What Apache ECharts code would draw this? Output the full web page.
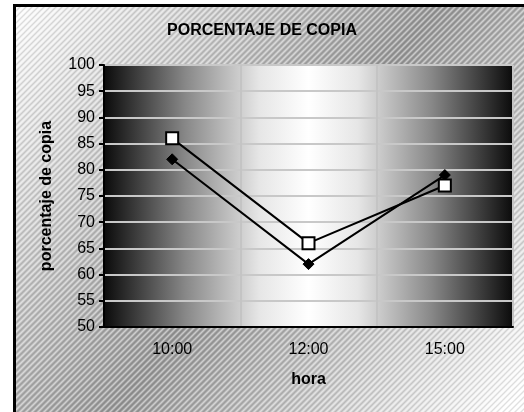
<!DOCTYPE html>
<html>
<head>
<meta charset="utf-8">
<script src="https://cdn.jsdelivr.net/npm/echarts@6/dist/echarts.min.js"></script>
<style>
  html, body { margin: 0; padding: 0; background: #fff; }
  #main { width: 524px; height: 412px; }
</style>
</head>
<body>
<div id="main"></div>
<script>
var myChart = echarts.init(document.getElementById('main'));

// datos
var horas = ['10:00', '12:00', '15:00'];
var serieRombo = [82, 62, 79];
var serieCuadro = [86, 66, 77];

var fuente = 'Arial, "Liberation Sans", sans-serif';

// rayado diagonal del fondo
var pat = document.createElement('canvas');
pat.width = 6;
pat.height = 6;
var ctx = pat.getContext('2d');
ctx.strokeStyle = 'rgba(255,255,255,0.45)';
ctx.lineWidth = 1.4;
ctx.beginPath();
ctx.moveTo(-1, 7); ctx.lineTo(7, -1);
ctx.moveTo(-4, 4); ctx.lineTo(4, -4);
ctx.moveTo(2, 10); ctx.lineTo(10, 2);
ctx.stroke();
ctx.strokeStyle = 'rgba(0,0,0,0.12)';
ctx.beginPath();
ctx.moveTo(-4, 7); ctx.lineTo(4, -1);
ctx.moveTo(2, 7); ctx.lineTo(10, -1);
ctx.stroke();

var option = {
  animation: false,
  title: {
    text: 'PORCENTAJE DE COPIA',
    left: 'center',
    top: 18,
    textStyle: { fontFamily: fuente, fontSize: 16, fontWeight: 'bold', color: '#000' }
  },
  graphic: [
    {
      type: 'rect',
      z: -10,
      shape: { x: 14.5, y: 5.5, width: 520, height: 415 },
      style: {
        fill: new echarts.graphic.LinearGradient(0, 0, 1, 1, [
          { offset: 0, color: '#ffffff' },
          { offset: 0.5, color: '#9a9a9a' },
          { offset: 0.95, color: '#ffffff' },
          { offset: 1, color: '#ffffff' }
        ]),
        stroke: '#000',
        lineWidth: 3
      }
    },
    {
      type: 'rect',
      z: -9,
      shape: { x: 16, y: 7, width: 520, height: 415 },
      style: { fill: { image: pat, repeat: 'repeat' } }
    }
  ],
  grid: {
    left: 104,
    right: 11,
    top: 65,
    bottom: 85,
    show: true,
    borderColor: '#111',
    borderWidth: 1,
    backgroundColor: new echarts.graphic.LinearGradient(0, 0, 1, 0, [
      { offset: 0, color: '#0a0a0a' },
      { offset: 0.2, color: '#888888' },
      { offset: 0.38, color: '#e6e6e6' },
      { offset: 0.5, color: '#ffffff' },
      { offset: 0.62, color: '#e6e6e6' },
      { offset: 0.8, color: '#888888' },
      { offset: 1, color: '#0a0a0a' }
    ])
  },
  xAxis: {
    type: 'category',
    data: horas,
    boundaryGap: true,
    name: 'hora',
    nameLocation: 'middle',
    nameGap: 45,
    nameTextStyle: { fontFamily: fuente, fontSize: 16, fontWeight: 'bold', color: '#000' },
    axisLine: { lineStyle: { color: '#000', width: 2 } },
    axisTick: { length: 5, lineStyle: { color: '#000', width: 2 } },
    axisLabel: { margin: 15, fontFamily: fuente, fontSize: 16, color: '#000' },
    splitLine: { show: true, lineStyle: { color: '#c4c4c4', width: 2 } }
  },
  yAxis: {
    type: 'value',
    min: 50,
    max: 100,
    interval: 5,
    name: 'porcentaje de copia',
    nameLocation: 'middle',
    nameGap: 49,
    nameTextStyle: { fontFamily: fuente, fontSize: 16, fontWeight: 'bold', color: '#000' },
    axisLine: { show: true, lineStyle: { color: '#000', width: 2 } },
    axisTick: { show: true, length: 5, lineStyle: { color: '#000', width: 2 } },
    axisLabel: { margin: 9, fontFamily: fuente, fontSize: 16, color: '#000' },
    splitLine: { show: true, lineStyle: { color: '#c8c8c8', width: 2 } }
  },
  series: [
    {
      name: 'rombo',
      type: 'line',
      data: serieRombo,
      symbol: 'diamond',
      symbolSize: 11,
      lineStyle: { color: '#000', width: 2 },
      itemStyle: { color: '#000', borderColor: '#000', borderWidth: 1 }
    },
    {
      name: 'cuadro',
      type: 'line',
      data: serieCuadro,
      symbol: 'rect',
      symbolSize: 12,
      lineStyle: { color: '#000', width: 2 },
      itemStyle: { color: '#fff', borderColor: '#000', borderWidth: 2 }
    }
  ]
};

myChart.setOption(option);
</script>
</body>
</html>
